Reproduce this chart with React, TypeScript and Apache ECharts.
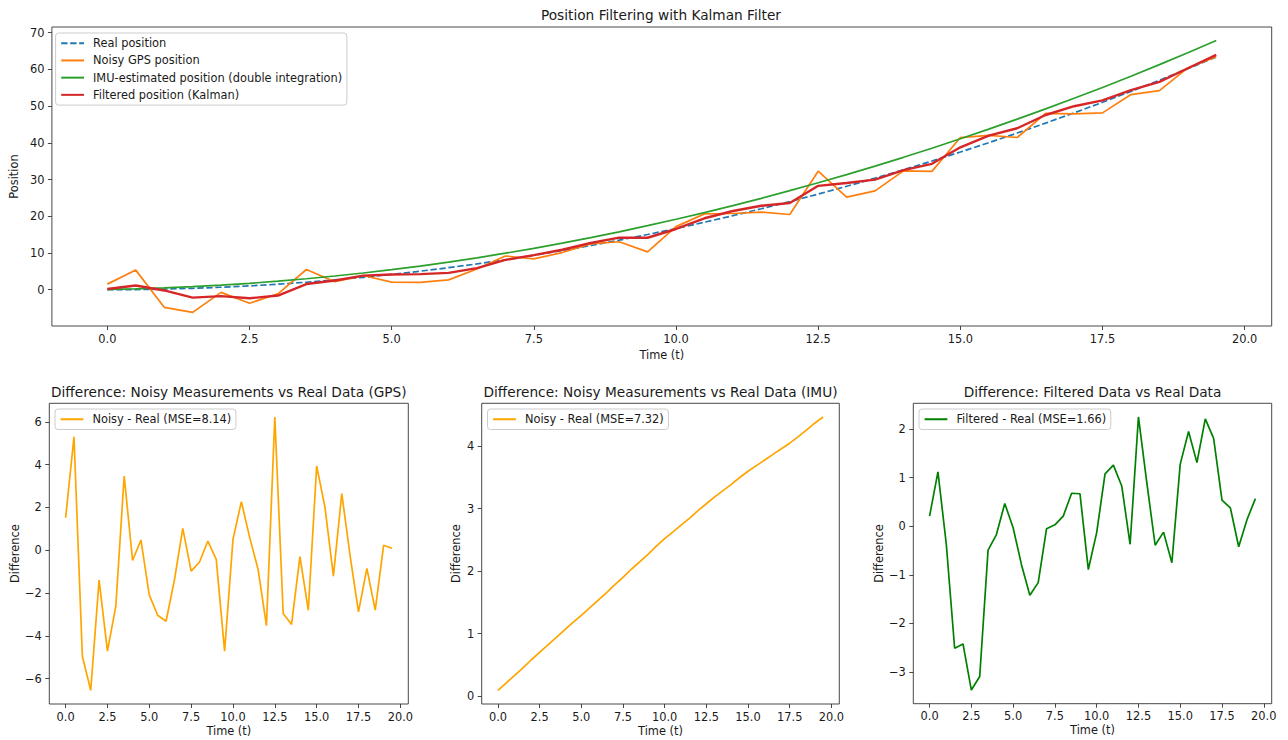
import React, { useEffect, useRef } from "react";
import * as echarts from "echarts";

// ---------------- data ----------------
const T = [0, 0.5, 1, 1.5, 2, 2.5, 3, 3.5, 4, 4.5, 5, 5.5, 6, 6.5, 7, 7.5, 8, 8.5, 9, 9.5,
  10, 10.5, 11, 11.5, 12, 12.5, 13, 13.5, 14, 14.5, 15, 15.5, 16, 16.5, 17, 17.5, 18, 18.5, 19, 19.5];

const realPos = [0, 0.04, 0.17, 0.38, 0.67, 1.04, 1.5, 2.04, 2.67, 3.38, 4.17, 5.04, 6.0, 7.04, 8.17, 9.38,
  10.67, 12.04, 13.5, 15.04, 16.67, 18.38, 20.17, 22.04, 24.0, 26.04, 28.17, 30.38, 32.67, 35.04, 37.5,
  40.04, 42.67, 45.38, 48.17, 51.04, 54.0, 57.04, 60.17, 63.38];

const gpsPos = [1.52, 5.34, -4.79, -6.18, -0.73, -3.68, -1.11, 5.51, 2.19, 3.86, 2.07, 2.0, 2.68, 5.64, 9.19,
  8.4, 10.12, 12.47, 13.07, 10.32, 17.18, 20.65, 20.76, 21.14, 20.48, 32.27, 25.21, 26.91, 32.37, 32.24,
  41.44, 42.03, 41.46, 48.03, 47.9, 48.16, 53.15, 54.24, 60.4, 63.47];

const imuPos = [0.09, 0.25, 0.5, 0.83, 1.25, 1.74, 2.32, 2.98, 3.73, 4.56, 5.46, 6.45, 7.53, 8.69, 9.95,
  11.28, 12.7, 14.19, 15.77, 17.44, 19.19, 21.01, 22.91, 24.89, 26.97, 29.12, 31.36, 33.67, 36.06, 38.54,
  41.1, 43.73, 46.45, 49.25, 52.13, 55.09, 58.15, 61.3, 64.54, 67.85];

const filtPos = [0.21, 1.16, -0.2, -2.14, -1.75, -2.33, -1.59, 1.55, 2.5, 3.85, 4.14, 4.25, 4.58, 5.88, 8.12,
  9.41, 10.88, 12.72, 14.17, 14.15, 16.54, 19.46, 21.43, 22.87, 23.63, 28.29, 29.07, 29.99, 32.55, 34.29,
  38.78, 41.99, 43.98, 47.59, 49.98, 51.58, 54.38, 56.62, 60.31, 63.95];

const gpsDiff = [1.52, 5.3, -4.96, -6.55, -1.4, -4.72, -2.61, 3.47, -0.48, 0.48, -2.1, -3.04, -3.32, -1.4,
  1.02, -0.98, -0.55, 0.43, -0.43, -4.72, 0.51, 2.27, 0.59, -0.9, -3.52, 6.23, -2.96, -3.47, -0.3, -2.8,
  3.94, 1.99, -1.21, 2.65, -0.27, -2.88, -0.85, -2.8, 0.23, 0.09];

const imuDiff = [0.09, 0.21, 0.33, 0.45, 0.58, 0.7, 0.82, 0.94, 1.06, 1.18, 1.29, 1.41, 1.53, 1.65, 1.78,
  1.9, 2.03, 2.15, 2.27, 2.4, 2.52, 2.63, 2.74, 2.85, 2.97, 3.08, 3.19, 3.29, 3.39, 3.5, 3.6, 3.69, 3.78,
  3.87, 3.96, 4.05, 4.15, 4.26, 4.37, 4.47];

const filtDiff = [0.21, 1.12, -0.37, -2.51, -2.42, -3.37, -3.09, -0.49, -0.17, 0.47, -0.03, -0.79, -1.42,
  -1.16, -0.05, 0.03, 0.21, 0.68, 0.67, -0.89, -0.13, 1.08, 1.26, 0.83, -0.37, 2.25, 0.9, -0.39, -0.12,
  -0.75, 1.28, 1.95, 1.31, 2.21, 1.81, 0.54, 0.38, -0.42, 0.14, 0.57];

const xTicks = [0, 2.5, 5, 7.5, 10, 12.5, 15, 17.5, 20];
const topYTicks = [0, 10, 20, 30, 40, 50, 60, 70];
const gpsYTicks = [-6, -4, -2, 0, 2, 4, 6];
const imuYTicks = [0, 1, 2, 3, 4];
const filtYTicks = [-3, -2, -1, 0, 1, 2];

const mainTitle = "Position Filtering with Kalman Filter";
const subTitles = [
  "Difference: Noisy Measurements vs Real Data (GPS)",
  "Difference: Noisy Measurements vs Real Data (IMU)",
  "Difference: Filtered Data vs Real Data",
];
const topNames = [
  "Real position",
  "Noisy GPS position",
  "IMU-estimated position (double integration)",
  "Filtered position (Kalman)",
];
const gpsName = "Noisy - Real (MSE=8.14)";
const imuName = "Noisy - Real (MSE=7.32)";
const filtName = "Filtered - Real (MSE=1.66)";

// ---------------- helpers ----------------
const FONT = "DejaVu Sans";
const TXT = "#1a1a1a";
const SPINE = "#333";

const pair = (ys: number[]) => T.map((t, i) => [t, ys[i]]);
const padExtent = (arrs: number[][]) => {
  const all = arrs.flat();
  const lo = Math.min(...all);
  const hi = Math.max(...all);
  const r = hi - lo;
  return [lo - 0.05 * r, hi + 0.05 * r];
};
const fmtNum = (v: number, digits: number) => {
  const s = Math.abs(v).toFixed(digits);
  return v < 0 ? "\u2212" + s : s;
};

const xExt = padExtent([T]);

function xAxis(gridIndex: number, nameGap: number) {
  return {
    type: "value",
    gridIndex,
    min: xExt[0],
    max: xExt[1],
    name: "Time (t)",
    nameLocation: "middle",
    nameGap,
    nameTextStyle: { fontSize: 11.4, color: TXT, fontFamily: FONT },
    axisLine: { show: false, onZero: false },
    splitLine: { show: false },
    axisTick: { show: true, length: 4, lineStyle: { color: SPINE, width: 0.9 }, customValues: xTicks },
    axisLabel: {
      customValues: xTicks,
      formatter: (v: number) => fmtNum(v, 1),
      fontSize: 11.4,
      color: TXT,
      fontFamily: FONT,
      margin: 7,
    },
  };
}

function yAxis(gridIndex: number, ext: number[], ticks: number[], name: string, nameGap: number) {
  return {
    type: "value",
    gridIndex,
    min: ext[0],
    max: ext[1],
    name,
    nameLocation: "middle",
    nameGap,
    nameTextStyle: { fontSize: 11.4, color: TXT, fontFamily: FONT },
    axisLine: { show: false, onZero: false },
    splitLine: { show: false },
    axisTick: { show: true, length: 4, lineStyle: { color: SPINE, width: 0.9 }, customValues: ticks },
    axisLabel: {
      customValues: ticks,
      formatter: (v: number) => fmtNum(v, 0),
      fontSize: 11.4,
      color: TXT,
      fontFamily: FONT,
      margin: 7.5,
    },
  };
}

const gridBox = (left: number, top: number, width: number, height: number) => ({
  left,
  top,
  width,
  height,
  show: true,
  borderColor: SPINE,
  borderWidth: 0.9,
  backgroundColor: "transparent",
  containLabel: false,
});

function legend(names: string[], left: number, top: number) {
  return {
    data: names,
    orient: "vertical",
    left,
    top,
    itemWidth: 22.8,
    itemHeight: 11.5,
    itemGap: 5.7,
    padding: [4.5, 4.6, 4.5, 4.6],
    borderColor: "#cccccc",
    borderWidth: 1,
    borderRadius: 3,
    backgroundColor: "rgba(255,255,255,0.8)",
    selectedMode: false,
    itemStyle: { opacity: 0 },
    textStyle: { fontSize: 11.4, lineHeight: 11.5, color: TXT, fontFamily: FONT, padding: [0, 0, 0, 4] },
  };
}

function line(name: string, ys: number[], color: string, idx: number, width: number, dashed = false) {
  return {
    type: "line",
    name,
    xAxisIndex: idx,
    yAxisIndex: idx,
    data: pair(ys),
    symbol: "none",
    lineStyle: { color, width, type: dashed ? [6.3, 2.7] : "solid" },
    itemStyle: { color },
    emphasis: { disabled: true },
  };
}

const topExt = padExtent([realPos, gpsPos, imuPos, filtPos]);
const gpsExt = padExtent([gpsDiff]);
const imuExt = padExtent([imuDiff]);
const filtExt = padExtent([filtDiff]);

export default function App() {
  const ref = useRef<HTMLDivElement>(null);
  useEffect(() => {
    if (!ref.current) return;
    const chart = echarts.init(ref.current, undefined, { renderer: "svg" });
    const option = {
      animation: false,
      textStyle: { fontFamily: FONT },
      grid: [
        gridBox(49.3, 27, 1222.4, 299),
        gridBox(49.3, 403.3, 359, 300.7),
        gridBox(481.7, 403.3, 357.6, 300.7),
        gridBox(913.3, 403.3, 358.4, 300.4),
      ],
      xAxis: [xAxis(0, 23), xAxis(1, 21), xAxis(2, 21), xAxis(3, 21)],
      yAxis: [
        yAxis(0, topExt, topYTicks, "Position", 25),
        yAxis(1, gpsExt, gpsYTicks, "Difference", 29),
        yAxis(2, imuExt, imuYTicks, "Difference", 20),
        yAxis(3, filtExt, filtYTicks, "Difference", 28.5),
      ],
      legend: [
        legend(topNames, 55.6, 33),
        legend([gpsName], 55, 409),
        legend([imuName], 487.5, 409),
        legend([filtName], 919, 409),
      ],
      graphic: [
        {
          type: "text",
          x: 661,
          y: 15,
          style: { text: mainTitle, fontSize: 13.7, fill: TXT, fontFamily: FONT, align: "center", verticalAlign: "middle" },
        },
        {
          type: "text",
          x: 228.8,
          y: 391.5,
          style: { text: subTitles[0], fontSize: 13.7, fill: TXT, fontFamily: FONT, align: "center", verticalAlign: "middle" },
        },
        {
          type: "text",
          x: 660.5,
          y: 391.5,
          style: { text: subTitles[1], fontSize: 13.7, fill: TXT, fontFamily: FONT, align: "center", verticalAlign: "middle" },
        },
        {
          type: "text",
          x: 1092.5,
          y: 391.5,
          style: { text: subTitles[2], fontSize: 13.7, fill: TXT, fontFamily: FONT, align: "center", verticalAlign: "middle" },
        },
      ],
      series: [
        line(topNames[0], realPos, "#1f77b4", 0, 1.7, true),
        line(topNames[1], gpsPos, "#ff7f0e", 0, 1.7),
        line(topNames[2], imuPos, "#2ca02c", 0, 1.7),
        line(topNames[3], filtPos, "#d62728", 0, 2.4),
        line(gpsName, gpsDiff, "#ffa500", 1, 1.7),
        line(imuName, imuDiff, "#ffa500", 2, 1.7),
        line(filtName, filtDiff, "#008000", 3, 1.7),
      ],
    };
    chart.setOption(option as any);
    return () => chart.dispose();
  }, []);
  return (
    <div
      ref={ref}
      style={{ position: "absolute", left: 0, top: 0, width: 1288, height: 740, background: "#fff" }}
    />
  );
}
